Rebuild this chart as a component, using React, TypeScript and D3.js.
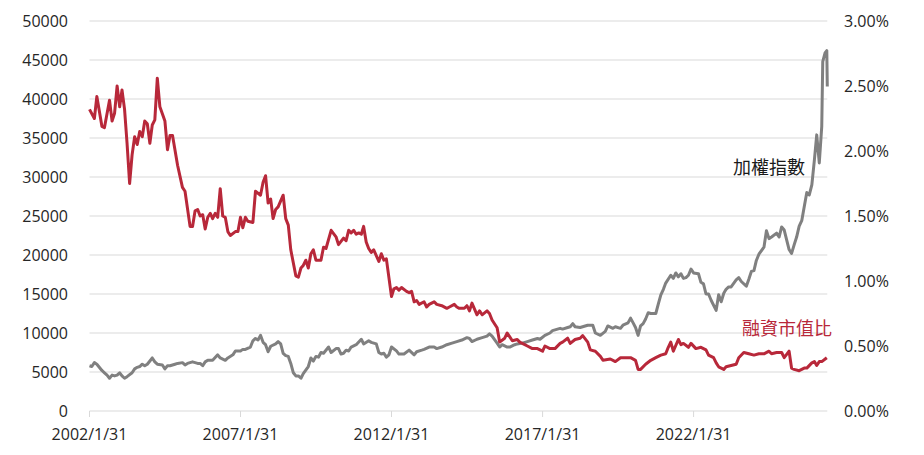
import React from "react";
import * as d3 from "d3";

// ---- Data ----
// 融資市值比 (margin market-value ratio, %), month-end samples
const marginDates = [
  "2002-01","2002-03","2002-04","2002-06","2002-07","2002-09","2002-10","2002-11","2002-12",
  "2003-01","2003-02","2003-03","2003-04","2003-05","2003-06","2003-07","2003-08","2003-09","2003-10","2003-11","2003-12",
  "2004-01","2004-02","2004-03","2004-04","2004-05","2004-07","2004-08","2004-09","2004-10","2004-12",
  "2005-02","2005-03","2005-05","2005-06","2005-07","2005-08","2005-09","2005-10","2005-11","2005-12",
  "2006-01","2006-02","2006-03","2006-04","2006-05","2006-06","2006-07","2006-08","2006-09","2006-11","2006-12",
  "2007-01","2007-02","2007-03","2007-04","2007-06","2007-07","2007-09","2007-10","2007-11","2007-12",
  "2008-01","2008-02","2008-03","2008-04","2008-06","2008-07","2008-08","2008-09","2008-11","2008-12",
  "2009-01","2009-02","2009-03","2009-04","2009-05","2009-06","2009-07","2009-09","2009-10","2009-11",
  "2010-01","2010-03","2010-04","2010-06","2010-07","2010-08","2010-09","2010-10","2010-11","2010-12",
  "2011-01","2011-02","2011-03","2011-04","2011-05","2011-06","2011-08","2011-09","2011-10","2011-11",
  "2012-01","2012-02","2012-03","2012-04","2012-05","2012-07","2012-08","2012-09","2012-10","2012-11","2012-12",
  "2013-02","2013-03","2013-04","2013-06","2013-07","2013-09","2013-11","2013-12",
  "2014-02","2014-03","2014-04","2014-06","2014-07","2014-08","2014-09","2014-11","2014-12",
  "2015-01","2015-03","2015-04","2015-05","2015-07","2015-08","2015-10","2015-11","2015-12",
  "2016-01","2016-03","2016-04","2016-06","2016-07","2016-09","2016-11",
  "2017-01","2017-02","2017-04","2017-06","2017-08","2017-09","2017-11","2017-12",
  "2018-02","2018-04","2018-05","2018-07","2018-08","2018-10","2018-12",
  "2019-01","2019-04","2019-06","2019-08","2019-10","2019-12",
  "2020-02","2020-03","2020-04","2020-06","2020-08","2020-10","2020-12",
  "2021-02","2021-03","2021-04","2021-05","2021-07","2021-08","2021-09","2021-11","2021-12",
  "2022-02","2022-04","2022-06","2022-07","2022-09","2022-10","2022-11",
  "2023-01","2023-02","2023-04","2023-06","2023-07","2023-09","2023-11",
  "2024-01","2024-03","2024-05","2024-07","2024-08","2024-10","2024-12",
  "2025-01","2025-03","2025-04","2025-05","2025-07","2025-09","2025-10","2025-12",
  "2026-01","2026-02","2026-03","2026-04","2026-06",
];
const marginRatio = [
  2.32,2.25,2.42,2.19,2.18,2.39,2.23,2.29,2.50,
  2.34,2.47,2.32,2.06,1.75,1.97,2.11,2.05,2.15,2.11,2.23,2.21,
  2.06,2.20,2.24,2.56,2.34,2.23,2.01,2.12,2.12,1.89,
  1.72,1.69,1.42,1.42,1.54,1.55,1.50,1.51,1.40,1.49,
  1.52,1.48,1.52,1.49,1.71,1.50,1.49,1.38,1.35,1.38,1.38,
  1.49,1.41,1.49,1.46,1.45,1.69,1.66,1.76,1.81,1.60,
  1.63,1.48,1.55,1.57,1.66,1.48,1.43,1.24,1.04,1.03,
  1.10,1.12,1.16,1.10,1.21,1.24,1.16,1.16,1.26,1.25,
  1.39,1.34,1.28,1.33,1.31,1.39,1.37,1.39,1.36,1.37,
  1.36,1.42,1.30,1.25,1.22,1.24,1.15,1.21,1.16,1.17,
  0.88,0.94,0.95,0.93,0.95,0.92,0.91,0.92,0.84,0.85,0.82,
  0.84,0.80,0.82,0.84,0.82,0.81,0.79,0.80,
  0.82,0.80,0.79,0.79,0.81,0.77,0.83,0.74,0.77,
  0.74,0.77,0.75,0.70,0.64,0.53,0.56,0.60,0.57,
  0.54,0.55,0.53,0.51,0.50,0.48,0.48,
  0.46,0.50,0.48,0.48,0.52,0.53,0.56,0.52,
  0.55,0.56,0.58,0.53,0.47,0.46,0.42,
  0.39,0.40,0.38,0.41,0.41,0.41,
  0.39,0.32,0.32,0.36,0.39,0.41,0.43,
  0.44,0.49,0.53,0.46,0.55,0.51,0.52,0.49,0.52,
  0.48,0.49,0.47,0.43,0.41,0.37,0.34,
  0.32,0.34,0.35,0.36,0.41,0.45,0.44,
  0.43,0.44,0.44,0.46,0.44,0.45,0.45,
  0.41,0.46,0.33,0.32,0.31,0.33,0.33,0.37,
  0.38,0.35,0.38,0.38,0.41,
];

// 加權指數 (TAIEX level)
const indexDates = [
  "2002-01","2002-02","2002-03","2002-04","2002-06","2002-07","2002-08","2002-09","2002-10","2002-11","2002-12",
  "2003-01","2003-02","2003-03","2003-04","2003-06","2003-07","2003-08","2003-09","2003-10","2003-11","2003-12",
  "2004-02","2004-03","2004-04","2004-06","2004-07","2004-08","2004-09","2004-11","2004-12",
  "2005-02","2005-03","2005-04","2005-06","2005-08","2005-09","2005-10","2005-11","2005-12",
  "2006-02","2006-04","2006-05","2006-07","2006-08","2006-10","2006-11",
  "2007-01","2007-02","2007-03","2007-05","2007-06","2007-07","2007-08","2007-09","2007-10","2007-11","2007-12",
  "2008-01","2008-03","2008-04","2008-05","2008-06","2008-07","2008-08","2008-09","2008-10","2008-11","2008-12",
  "2009-01","2009-02","2009-04","2009-05","2009-06","2009-07","2009-08","2009-09","2009-10","2009-12",
  "2010-01","2010-03","2010-04","2010-05","2010-06","2010-07","2010-08","2010-09","2010-11",
  "2011-01","2011-02","2011-04","2011-05","2011-07","2011-08","2011-09","2011-10","2011-11","2011-12",
  "2012-01","2012-03","2012-04","2012-06","2012-08","2012-10","2012-11",
  "2013-01","2013-02","2013-04","2013-06","2013-07","2013-09","2013-11",
  "2014-01","2014-03","2014-05","2014-07","2014-08","2014-09","2014-11",
  "2015-01","2015-03","2015-04","2015-05","2015-07","2015-08","2015-09","2015-11","2015-12",
  "2016-02","2016-03","2016-05","2016-07","2016-09","2016-11","2016-12",
  "2017-02","2017-04","2017-05","2017-07","2017-08","2017-09","2017-11","2017-12",
  "2018-01","2018-02","2018-04","2018-06","2018-07","2018-09","2018-10","2018-12",
  "2019-02","2019-03","2019-05","2019-06","2019-08","2019-09","2019-11","2019-12",
  "2020-01","2020-02","2020-03","2020-04","2020-05","2020-06","2020-07","2020-08","2020-10","2020-11","2020-12",
  "2021-01","2021-02","2021-04","2021-05","2021-06","2021-07","2021-08","2021-09","2021-10","2021-11","2021-12",
  "2022-01","2022-03","2022-04","2022-05","2022-06","2022-07","2022-08","2022-10","2022-11","2022-12",
  "2023-01","2023-02","2023-03","2023-04","2023-06","2023-07","2023-08","2023-10","2023-11","2023-12",
  "2024-01","2024-02","2024-03","2024-05","2024-06","2024-07","2024-08","2024-10","2024-11","2024-12",
  "2025-01","2025-03","2025-04","2025-05","2025-06","2025-07","2025-08","2025-09","2025-10","2025-11","2025-12",
  "2026-01","2026-02","2026-03","2026-04","2026-05-12","2026-06-09","2026-06","2026-07-06",
];
const indexValues = [
  5800,5700,6200,6000,5200,4900,4600,4200,4600,4500,4600,
  4900,4500,4200,4400,4900,5400,5600,5700,6000,5800,6000,
  6800,6300,6000,5900,5400,5800,5800,6000,6100,
  6200,5900,6100,6300,6100,6100,5800,6300,6500,
  6500,7200,6800,6500,6800,7200,7700,
  7700,7900,7900,8200,9000,9300,9100,9700,8800,8500,7600,
  8300,8600,8900,8600,7400,7100,7000,6100,4900,4500,4500,
  4200,4800,5700,6800,6400,7000,6900,7500,7400,8200,
  7500,8000,8000,7300,7400,7800,7700,8200,8500,
  9200,8600,9000,8800,8600,7500,7300,7400,6900,7200,
  8200,7700,7300,7300,7800,7200,7600,
  7800,7900,8200,8200,8000,8200,8500,
  8700,8900,9100,9400,9300,8900,9200,
  9400,9600,9900,9600,8700,8200,8500,8200,8200,
  8500,8600,8700,8900,9100,9300,9200,
  9700,10000,10300,10500,10600,10500,10700,10800,
  11200,10800,10700,10900,11000,11000,10000,9700,
  10200,10900,10600,10800,10600,11000,11300,11900,
  11300,10700,9700,10900,11200,11800,12600,12500,12500,13700,14900,
  15600,16400,17400,17000,17700,17200,17600,17000,17100,17400,18200,
  17700,17600,16500,16300,15000,15000,14200,12900,14900,14000,
  15100,15600,15900,15900,16800,17100,16600,16000,16900,17900,
  18000,19300,20100,21000,23100,22100,22300,22800,22300,23600,
  23200,20700,20200,21300,22300,23700,24400,26200,28000,27700,29000,
  32200,35400,31800,36500,44800,45900,46200,41600,
];

const leftTicks = [0, 5000, 10000, 15000, 20000, 25000, 30000, 35000, 40000, 45000, 50000];
const rightTicks = [0, 0.5, 1.0, 1.5, 2.0, 2.5, 3.0];
const xTickLabels = ["2002/1/31", "2007/1/31", "2012/1/31", "2017/1/31", "2022/1/31"];

const seriesLabels = { index: "加權指數", margin: "融資市值比" };

// ---- helpers ----
function parseDate(s: string): Date {
  const p = s.split(/[-/]/).map(Number);
  if (p.length === 2) return new Date(Date.UTC(p[0], p[1], 0)); // month-end
  return new Date(Date.UTC(p[0], p[1] - 1, p[2]));
}

const W = 924;
const H = 455;
const RED = "#b8283a";
const GRAY = "#808080";
const GRID = "#d9d9d9";
const TEXT = "#262626";
const FONT = "'Open Sans', 'Noto Sans', 'Noto Sans CJK TC', sans-serif";

export default function App() {
  React.useEffect(() => {
    document.body.style.margin = "0";
  }, []);

  const xStart = parseDate(xTickLabels[0]);
  const xEnd = parseDate(indexDates[indexDates.length - 1]);
  const x = d3.scaleUtc().domain([xStart, xEnd]).range([89.5, 827.3]);
  const yL = d3.scaleLinear().domain([0, 50000]).range([411, 21]);
  const yR = d3.scaleLinear().domain([0, 3]).range([411, 21]);

  const indexData = indexDates.map((d, i) => ({ d: parseDate(d), v: indexValues[i] }));
  const marginData = marginDates.map((d, i) => ({ d: parseDate(d), v: marginRatio[i] }));

  const lineIdx = d3
    .line<{ d: Date; v: number }>()
    .x((p) => x(p.d))
    .y((p) => yL(p.v));
  const lineMrg = d3
    .line<{ d: Date; v: number }>()
    .x((p) => x(p.d))
    .y((p) => yR(p.v));

  const [x0, x1] = x.range();

  return (
    <svg
      width={W}
      height={H}
      style={{ display: "block", background: "#fff" }}
      fontFamily={FONT}
    >
      {/* gridlines */}
      {leftTicks.map((t) => (
        <line key={"g" + t} x1={x0} x2={x1} y1={yL(t)} y2={yL(t)} stroke={GRID} strokeWidth={1} />
      ))}
      {/* x ticks */}
      {xTickLabels.map((t) => {
        const xx = x(parseDate(t));
        return (
          <g key={"x" + t}>
            <line x1={xx} x2={xx} y1={411} y2={417} stroke={GRID} strokeWidth={1} />
            <text x={xx} y={440} textAnchor="middle" fontSize={16} fill={TEXT}>
              {t}
            </text>
          </g>
        );
      })}
      {/* left axis labels */}
      {leftTicks.map((t) => (
        <text key={"l" + t} x={68} y={yL(t)} dy="0.35em" textAnchor="end" fontSize={16} fill={TEXT}>
          {t}
        </text>
      ))}
      {/* right axis labels */}
      {rightTicks.map((t) => (
        <text key={"r" + t} x={844} y={yR(t)} dy="0.35em" textAnchor="start" fontSize={16} fill={TEXT}>
          {t.toFixed(2) + "%"}
        </text>
      ))}
      {/* series */}
      <path d={lineIdx(indexData) || ""} fill="none" stroke={GRAY} strokeWidth={3} strokeLinejoin="round" />
      <path d={lineMrg(marginData) || ""} fill="none" stroke={RED} strokeWidth={3} strokeLinejoin="round" />
      {/* labels */}
      <text x={733} y={174} fontSize={18} fill="#1a1a1a" fontFamily="'Noto Sans CJK TC', sans-serif">
        {seriesLabels.index}
      </text>
      <text x={742} y={335} fontSize={18} fill={RED} fontFamily="'Noto Sans CJK TC', sans-serif">
        {seriesLabels.margin}
      </text>
    </svg>
  );
}
